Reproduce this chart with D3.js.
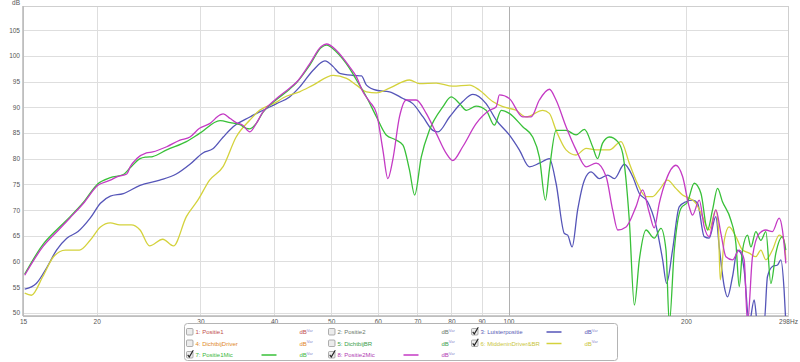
<!DOCTYPE html>
<html>
<head>
<meta charset="utf-8">
<script src="https://d3js.org/d3.v7.min.js"></script>
<style>
  body { margin: 0; background: #fff; }
  text { font-family: "Liberation Sans", Arial, sans-serif; }
</style>
</head>
<body>
<div id="chart"></div>
<script>
// tick values
var yTicks = [50, 55, 60, 65, 70, 75, 80, 85, 90, 95, 100, 105];
var xTicks = [15, 20, 30, 40, 50, 60, 70, 80, 90, 100, 200, 298];
var xGrid = [20, 30, 40, 50, 60, 70, 80, 90, 100, 200];

// 3: Luisterpositie
var luisterF = [15.1,15.8,16.5,17.1,17.8,18.6,19.5,20.3,21.1,22.2,23.7,25.6,27.3,28.8,30.3,31.5,32.8,34.1,36.4,38.3,40.4,42.5,44.2,46.6,48.8,50.4,51.7,54.4,56.3,57.4,59.7,62.8,66.2,68.8,71.6,74.4,75.9,79.4,83.6,87.0,91.6,95.3,100.3,104.3,108.5,112.8,117.3,120.4,124.4,126.0,128.2,131.0,134.5,138.0,142.6,147.3,151.2,157.2,162.4,166.7,172.2,177.9,182.6,185.4,189.8,194.8,200.0,205.2,209.3,214.8,219.0,224.8,227.8,232.3,235.3,239.9,244.6,247.9,251.1,256.1,261.1,264.5,271.5,275.0,280.4,286.0,289.8,293.5,295.5];
var luisterDb = [54.6,55.7,59.0,62.2,64.5,65.8,68.4,71.3,72.7,73.2,74.8,75.8,77.0,78.9,81.1,81.9,84.2,86.2,88.1,89.4,90.7,92.0,93.9,97.2,99.0,97.9,96.6,96.2,96.1,94.3,93.3,93.0,91.7,90.7,88.1,85.5,85.2,88.1,91.1,92.5,90.7,87.5,84.6,81.7,78.4,79.1,80.0,75.2,65.4,65.1,62.8,70.0,75.8,77.4,76.1,76.8,76.1,78.9,76.5,73.2,71.6,67.0,60.3,55.7,62.2,70.6,71.6,71.9,71.3,64.8,64.5,68.7,62.8,55.1,53.1,57.0,62.2,61.6,58.3,48,52.5,48,48,57.0,59.0,59.3,60.3,54.4,48];

// 6: MiddeninDriver&BR
var middenF = [15.1,15.5,16.2,16.9,17.7,18.7,19.5,20.3,21.1,21.9,22.9,23.7,24.6,25.9,27.0,28.4,29.7,31.1,32.8,34.5,36.4,37.8,40.4,41.4,44.2,46.6,50.4,53.1,55.2,57.4,59.7,62.8,67.9,70.6,75.4,80.4,85.9,89.3,94.0,97.8,103.0,107.1,114.3,117.3,120.4,125.2,130.2,135.4,140.8,148.3,155.2,160.3,164.5,171.1,175.6,180.2,186.1,192.3,197.4,202.6,208.0,213.4,219.0,224.8,227.1,228.7,232.3,236.8,243.1,249.5,256.1,262.8,268.0,273.3,280.4,287.9,293.5,295.5];
var middenDb = [53.8,53.4,57.0,60.9,62.2,62.2,64.1,66.7,67.5,67.1,67.1,66.1,63.0,64.3,63.0,68.7,71.9,75.8,78.5,84.2,87.5,89.4,91.0,91.8,93.0,94.3,96.2,95.6,94.3,93.0,92.8,93.7,95.3,94.6,94.7,94.1,94.3,93.3,91.1,90.1,89.4,88.1,89.4,88.8,85.5,81.7,80.7,82.0,81.7,81.7,83.3,79.1,75.8,72.6,72.6,73.9,75.8,74.2,72.9,72.3,71.3,68.7,66.1,70.0,66.1,56.4,64.1,66.7,64.8,62.2,61.6,60.9,62.2,60.3,62.2,65.1,64.1,60.3];

// 7: Positie1Mic
var pos1F = [15.1,16.2,17.2,18.0,19.0,20.1,21.1,22.2,22.8,23.7,24.3,24.9,26.3,28.4,29.9,32.4,33.7,35.0,35.9,36.4,37.3,38.3,40.4,42.5,43.7,46.0,48.1,49.1,51.0,53.7,55.2,57.4,59.7,62.0,64.5,66.2,67.9,69.3,71.1,73.4,77.4,79.9,82.6,84.8,88.1,91.6,94.6,97.2,100.3,105.7,109.9,112.8,115.5,117.3,120.4,125.2,130.2,134.5,138.9,141.6,144.4,148.3,153.2,156.2,160.3,163.5,166.7,171.1,176.7,181.4,185.0,187.4,191.1,196.1,201.3,206.6,212.1,217.6,221.9,226.3,230.7,238.4,243.1,246.3,249.5,254.4,257.8,262.8,268.0,273.3,278.7,284.2,291.6,295.5];
var pos1Db = [57.5,63.2,66.4,68.6,71.5,75.1,76.3,76.9,78.2,80.0,80.3,80.4,81.7,83.3,84.9,87.4,87.0,86.6,85.9,85.8,86.8,89.0,91.5,93.5,94.8,98.2,101.6,102.1,100.8,97.6,95.3,92.0,88.1,84.6,83.6,82.6,77.8,72.9,80.3,85.5,90.1,92.0,90.7,89.4,90.2,89.4,86.5,89.4,88.8,86.2,84.2,80.3,71.9,77.8,85.5,85.5,84.6,85.7,82.3,80.0,83.0,84.2,83.3,81.0,68.0,51.5,60.3,66.1,64.5,66.4,62.2,48,62.2,70.3,71.6,75.2,73.2,66.1,70.0,74.2,71.6,68.0,63.5,55.1,62.2,65.1,62.8,65.8,64.1,65.8,55.7,61.6,64.8,62.2];

// 8: Positie2Mic
var pos2F = [15.1,16.2,17.2,18.0,19.0,20.1,21.1,21.7,22.5,22.8,23.4,24.3,24.9,26.3,27.7,28.8,29.9,31.1,32.4,32.8,33.7,34.5,35.4,36.4,37.3,38.3,40.4,42.5,43.7,46.0,48.1,49.1,51.0,53.7,55.2,56.6,58.1,59.7,61.2,62.4,63.6,65.3,67.1,69.7,72.5,75.4,78.4,80.4,83.6,88.1,92.8,95.3,96.5,100.3,105.7,109.2,112.8,117.3,120.4,125.2,130.2,135.4,140.8,146.4,150.2,153.2,158.3,164.5,168.8,173.3,176.7,180.2,185.0,192.3,197.4,202.6,205.2,210.7,214.8,219.0,224.8,229.3,233.8,239.9,246.3,251.1,254.4,259.4,266.3,273.3,280.4,287.9,291.6,295.5];
var pos2Db = [57.3,62.8,66.0,68.4,71.3,74.8,75.8,76.5,77.0,78.4,80.0,81.1,81.3,82.3,83.6,84.2,85.9,86.8,88.5,88.7,87.8,87.0,86.5,85.2,86.8,89.1,91.7,93.7,94.9,98.5,101.8,102.3,101.1,97.9,95.9,93.0,91.1,88.8,81.7,76.1,79.7,88.1,91.4,91.4,88.8,84.9,81.0,79.6,82.3,86.8,89.4,90.1,92.4,91.7,88.1,88.1,91.4,93.5,91.4,86.2,81.7,78.4,79.1,76.5,70.0,66.1,66.7,70.6,73.9,69.5,66.5,71.3,75.8,78.7,76.5,70.6,69.0,71.9,66.7,64.8,70.0,65.4,60.9,60.3,62.2,60.3,48,60.9,65.4,66.1,65.8,68.4,66.1,59.6];

// legend entries
var legendNames = ["1: Positie1", "2: Positie2", "3: Luisterpositie", "4: DichtbijDriver", "5: DichtbijBR", "6: MiddeninDriver&BR", "7: Positie1Mic", "8: Positie2Mic"];
var legendText = ["#c0504d", "#6b7b6b", "#5a5ab4", "#e0892a", "#3aa04a", "#c9c53a", "#3cb83c", "#b23cb2"];
var legendChecked = [false, false, true, false, false, true, true, true];
var legendLine = [null, null, "#5555b8", null, null, "#d4d23c", "#38c038", "#c43ac4"];

var W = 800, H = 362;
var plotL = 23, plotR = 788, plotT = 6, plotB = 316;

var svg = d3.select("#chart").append("svg")
    .attr("width", W)
    .attr("height", H);

var x = d3.scaleLog().domain([15, 298]).range([plotL, plotR]);
var y = d3.scaleLinear().domain([49.36, 109.7]).range([plotB, plotT]);

// grid
svg.append("g").selectAll("line")
  .data(yTicks).enter().append("line")
    .attr("x1", plotL).attr("x2", plotR)
    .attr("y1", function(d) { return Math.round(y(d)) + 0.5; })
    .attr("y2", function(d) { return Math.round(y(d)) + 0.5; })
    .attr("stroke", "#dedede");

svg.append("g").selectAll("line")
  .data(xGrid).enter().append("line")
    .attr("x1", function(d) { return Math.round(x(d)) + 0.5; })
    .attr("x2", function(d) { return Math.round(x(d)) + 0.5; })
    .attr("y1", plotT).attr("y2", plotB)
    .attr("stroke", function(d) { return d === 100 ? "#b0b0b0" : "#dedede"; });

// frame
svg.append("rect")
    .attr("x", plotL + 0.5).attr("y", plotT + 0.5)
    .attr("width", plotR - plotL).attr("height", plotB - plotT)
    .attr("fill", "none").attr("stroke", "#cfcfcf");
svg.append("line")
    .attr("x1", plotL).attr("x2", plotL).attr("y1", plotT).attr("y2", plotB)
    .attr("stroke", "#b8b8b8").attr("stroke-width", 1.5);
svg.append("line")
    .attr("x1", plotL).attr("x2", plotR).attr("y1", plotB).attr("y2", plotB)
    .attr("stroke", "#b8b8b8").attr("stroke-width", 1.5);

// axes (labels only)
svg.append("g")
    .attr("transform", "translate(" + plotL + ",0)")
    .call(d3.axisLeft(y).tickValues(yTicks).tickSize(0).tickPadding(3));
svg.append("g")
    .attr("transform", "translate(0," + plotB + ")")
    .call(d3.axisBottom(x).tickValues(xTicks).tickSize(0).tickPadding(3)
      .tickFormat(function(d) { return d === 298 ? "298Hz" : d; }));
svg.selectAll(".domain").remove();
svg.selectAll(".tick text")
    .attr("font-family", "Liberation Sans, Arial, sans-serif")
    .attr("font-size", "6.5px")
    .attr("fill", "#555");

svg.append("text")
    .attr("x", 20).attr("y", 4.5)
    .attr("text-anchor", "end")
    .attr("font-size", "6.5px")
    .attr("fill", "#555")
    .text("dB");

// curves
svg.append("clipPath").attr("id", "plotclip")
  .append("rect")
    .attr("x", plotL).attr("y", plotT)
    .attr("width", plotR - plotL).attr("height", plotB - plotT);

var line = d3.line()
    .x(function(d) { return x(d[0]); })
    .y(function(d) { return y(d[1]); })
    .curve(d3.curveMonotoneX);

var series = [
  { f: luisterF, db: luisterDb, color: "#5555b8" },
  { f: middenF, db: middenDb, color: "#d4d23c" },
  { f: pos1F, db: pos1Db, color: "#38c038" },
  { f: pos2F, db: pos2Db, color: "#c43ac4" }
];

var curves = svg.append("g").attr("clip-path", "url(#plotclip)");
series.forEach(function(s) {
  curves.append("path")
      .datum(d3.zip(s.f, s.db))
      .attr("fill", "none")
      .attr("stroke", s.color)
      .attr("stroke-width", 1.3)
      .attr("stroke-linejoin", "round")
      .attr("d", line);
});

// legend
var lg = svg.append("g");
lg.append("rect")
    .attr("x", 184.5).attr("y", 323.5)
    .attr("width", 433).attr("height", 37)
    .attr("rx", 3)
    .attr("fill", "#fff")
    .attr("stroke", "#b4b4b4");

var colX = [186.5, 328.5, 471.5];
var rowY = [332, 343.5, 355];

legendNames.forEach(function(name, i) {
  var cx = colX[i % 3], cy = rowY[Math.floor(i / 3)];
  var g = lg.append("g");
  g.append("rect")
      .attr("x", cx).attr("y", cy - 3.5)
      .attr("width", 6.5).attr("height", 6.5)
      .attr("rx", 1)
      .attr("fill", "#ececec")
      .attr("stroke", "#8e8e8e")
      .attr("stroke-width", 0.7);
  if (legendChecked[i]) {
    g.append("path")
        .attr("d", "M" + (cx + 1.2) + "," + (cy - 0.2) + " L" + (cx + 2.8) + "," + (cy + 1.9) + " L" + (cx + 6.8) + "," + (cy - 4.8))
        .attr("fill", "none")
        .attr("stroke", "#222")
        .attr("stroke-width", 1.1);
  }
  g.append("text")
      .attr("x", cx + 9).attr("y", cy + 2.2)
      .attr("font-size", "6px")
      .attr("fill", legendText[i])
      .text(name);
  if (legendLine[i]) {
    g.append("line")
        .attr("x1", cx + 75).attr("x2", cx + 90)
        .attr("y1", cy).attr("y2", cy)
        .attr("stroke", legendLine[i])
        .attr("stroke-width", 1.5);
  }
  var u = g.append("text")
      .attr("x", cx + 113).attr("y", cy + 2.2)
      .attr("font-size", "6px")
      .attr("fill", legendText[i]);
  u.append("tspan").text("dB");
  u.append("tspan")
      .attr("dy", -2.5)
      .attr("font-size", "4px")
      .attr("fill", "#8a8ad0")
      .text("Var");
});
</script>
</body>
</html>
